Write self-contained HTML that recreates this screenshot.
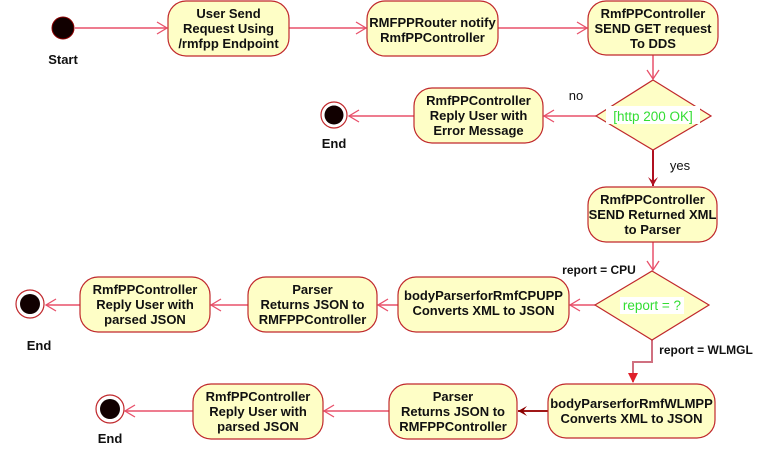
<!DOCTYPE html>
<html><head><meta charset="utf-8"><style>
html,body{margin:0;padding:0;background:#fff;}
svg{display:block;}
text{font-family:"Liberation Sans",sans-serif;font-size:13px;font-weight:bold;fill:#111;}
.b{fill:#fefec6;stroke:#c0282c;stroke-width:1.2;}
.l{stroke:#e8506a;stroke-width:1.5;fill:none;}
.a{stroke:#e8506a;stroke-width:1.3;fill:none;}
.n{font-weight:normal;font-size:13px;}
.g{fill:#33dd33;font-weight:normal;font-size:13.5px;}
</style></head><body>
<svg width="757" height="453" viewBox="0 0 757 453" xmlns="http://www.w3.org/2000/svg">
<circle cx="63" cy="28" r="11" fill="#110000" stroke="#8b0000" stroke-width="1"/>
<text x="63" y="64" text-anchor="middle">Start</text>
<line class="l" x1="75" y1="28" x2="167" y2="28"/><polyline class="a" points="157,22 167,28 157,34"/>
<line class="l" x1="289" y1="28" x2="366" y2="28"/><polyline class="a" points="356,22 366,28 356,34"/>
<line class="l" x1="498" y1="28" x2="587" y2="28"/><polyline class="a" points="577,22 587,28 577,34"/>
<line class="l" x1="653" y1="55" x2="653" y2="79"/><polyline class="a" points="647,70 653,79 659,70"/>
<line class="l" x1="596" y1="116" x2="544" y2="116"/><polyline class="a" points="554,110 544,116 554,122"/>
<line class="l" x1="414" y1="116" x2="349" y2="116"/><polyline class="a" points="359,110 349,116 359,122"/>
<line x1="653" y1="150" x2="653" y2="186" stroke="#b01020" stroke-width="2"/><polygon points="648,177 653,186 658,177 653,181" fill="#b01020"/>
<line class="l" x1="653" y1="242" x2="653" y2="270"/><polyline class="a" points="647,261 653,270 659,261"/>
<line class="l" x1="595" y1="305" x2="570" y2="305"/><polyline class="a" points="580,299 570,305 580,311"/>
<line class="l" x1="398" y1="305" x2="378" y2="305"/><polyline class="a" points="388,299 378,305 388,311"/>
<line class="l" x1="248" y1="305" x2="211" y2="305"/><polyline class="a" points="221,299 211,305 221,311"/>
<line class="l" x1="80" y1="305" x2="46" y2="305"/><polyline class="a" points="56,299 46,305 56,311"/>
<polyline points="652,340 652,362 633,362 633,382" fill="none" stroke="#d07080" stroke-width="2"/><polygon points="628,373 633,383 638,373" fill="#e0202a"/>
<line x1="548" y1="411" x2="518" y2="411" stroke="#a01818" stroke-width="2"/><polygon points="527,406 518,411 527,416 523,411" fill="#8b0000"/>
<line class="l" x1="389" y1="411" x2="324" y2="411"/><polyline class="a" points="334,405 324,411 334,417"/>
<line class="l" x1="193" y1="411" x2="125" y2="411"/><polyline class="a" points="135,405 125,411 135,417"/>
<rect class="b" x="168" y="1" width="121" height="55" rx="18"/>
<text x="228.5" y="18" text-anchor="middle">User Send</text><text x="228.5" y="33" text-anchor="middle">Request Using</text><text x="228.5" y="48" text-anchor="middle">/rmfpp Endpoint</text>
<rect class="b" x="367" y="1" width="131" height="55" rx="18"/>
<text x="432.5" y="27" text-anchor="middle">RMFPPRouter notify</text><text x="432.5" y="42" text-anchor="middle">RmfPPController</text>
<rect class="b" x="588" y="1" width="130" height="54" rx="18"/>
<text x="653" y="18" text-anchor="middle">RmfPPController</text><text x="653" y="33" text-anchor="middle">SEND GET request</text><text x="653" y="48" text-anchor="middle">To DDS</text>
<polygon class="b" points="653,80 711,116 653,150 596,116"/>
<rect x="606" y="106" width="94" height="18" fill="#fff"/>
<text class="g" x="653" y="121" text-anchor="middle">[http 200  OK]</text>
<text class="n" x="576" y="100" text-anchor="middle">no</text>
<text class="n" x="680" y="170" text-anchor="middle">yes</text>
<rect class="b" x="414" y="88" width="129" height="55" rx="18"/>
<text x="478.5" y="105" text-anchor="middle">RmfPPController</text><text x="478.5" y="120" text-anchor="middle">Reply User with</text><text x="478.5" y="135" text-anchor="middle">Error Message</text>
<circle cx="334" cy="115" r="13" fill="#fff" stroke="#c0282c" stroke-width="1.2"/><circle cx="334" cy="115" r="9.5" fill="#110000"/>
<text x="334" y="148" text-anchor="middle">End</text>
<rect class="b" x="588" y="187" width="129" height="55" rx="18"/>
<text x="652.5" y="204" text-anchor="middle">RmfPPController</text><text x="652.5" y="219" text-anchor="middle">SEND Returned XML</text><text x="652.5" y="234" text-anchor="middle">to Parser</text>
<polygon class="b" points="652,271 709,305 652,340 595,305"/>
<rect x="620" y="297" width="64" height="17" fill="#fff"/>
<text class="g" x="652" y="310" text-anchor="middle">report = ?</text>
<text x="599" y="274" text-anchor="middle" style="font-size:12px">report = CPU</text>
<text x="706" y="354" text-anchor="middle" style="font-size:12px">report =  WLMGL</text>
<rect class="b" x="398" y="277" width="171" height="55" rx="18"/>
<text x="483.5" y="300" text-anchor="middle">bodyParserforRmfCPUPP</text><text x="483.5" y="315" text-anchor="middle">Converts XML to JSON</text>
<rect class="b" x="248" y="277" width="129" height="55" rx="18"/>
<text x="312.5" y="294" text-anchor="middle">Parser</text><text x="312.5" y="309" text-anchor="middle">Returns JSON to</text><text x="312.5" y="324" text-anchor="middle">RMFPPController</text>
<rect class="b" x="80" y="277" width="130" height="55" rx="18"/>
<text x="145" y="294" text-anchor="middle">RmfPPController</text><text x="145" y="309" text-anchor="middle">Reply User with</text><text x="145" y="324" text-anchor="middle">parsed JSON</text>
<circle cx="30" cy="304" r="14" fill="#fff" stroke="#c0282c" stroke-width="1.2"/><circle cx="30" cy="304" r="10" fill="#110000"/>
<text x="39" y="350" text-anchor="middle">End</text>
<rect class="b" x="548" y="384" width="167" height="54" rx="18"/>
<text x="631.5" y="408" text-anchor="middle">bodyParserforRmfWLMPP</text><text x="631.5" y="423" text-anchor="middle">Converts XML to JSON</text>
<rect class="b" x="389" y="384" width="128" height="55" rx="18"/>
<text x="453" y="401" text-anchor="middle">Parser</text><text x="453" y="416" text-anchor="middle">Returns JSON to</text><text x="453" y="431" text-anchor="middle">RMFPPController</text>
<rect class="b" x="193" y="384" width="130" height="55" rx="18"/>
<text x="258" y="401" text-anchor="middle">RmfPPController</text><text x="258" y="416" text-anchor="middle">Reply User with</text><text x="258" y="431" text-anchor="middle">parsed JSON</text>
<circle cx="110" cy="409" r="14" fill="#fff" stroke="#c0282c" stroke-width="1.2"/><circle cx="110" cy="409" r="10" fill="#110000"/>
<text x="110" y="443" text-anchor="middle">End</text>
</svg>
</body></html>
